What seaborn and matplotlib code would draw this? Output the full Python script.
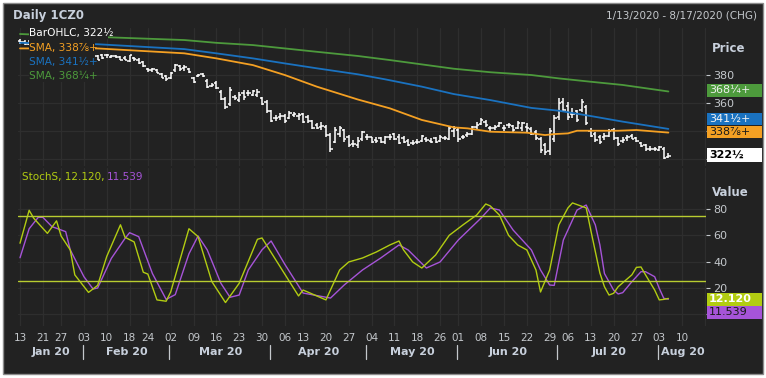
import numpy as np
import pandas as pd
import seaborn as sns
import matplotlib.pyplot as plt
from matplotlib.patches import Rectangle
from matplotlib.lines import Line2D
import matplotlib.transforms as mtrans

# ---- data ----
opens = [404.5, 403.5, 402, 403.5, 400.5, 399.5, 398, 399, 396.5, 395, 396, 393.5, 394.5, 393, 392, 393.5, 394,
         393.5, 394, 394.5, 393, 393.5, 393, 392.5, 390, 392, 391, 389, 384, 383.5, 383.5, 381, 379, 378, 383.5,
         386.5, 385, 384, 378, 379.5, 381, 376, 372.5, 374, 368, 363, 359, 364, 362, 367, 367, 365.5, 366, 363.5,
         361, 354, 349, 350, 351, 349, 351.5, 351, 352, 350, 347, 344.5, 343, 343, 337, 332, 338, 340.5, 336, 331,
         330, 334, 336, 335.5, 333.5, 335, 332, 335.5, 338, 336, 335, 333, 331.5, 332, 333, 334, 333, 335, 333,
         335, 334.5, 340, 341, 335.5, 337.5, 338, 343, 345, 346.5, 342, 342.5, 343.5, 342.5, 344, 343.5, 342, 342,
         343, 341.5, 339, 334, 330, 326, 334, 350, 361, 358, 352, 354, 355, 357.5, 340, 338, 336, 336, 336.5,
         340.5, 335, 333, 335, 336.5, 335, 331.5, 330, 327.5, 327.5, 326.5, 327.5, 321.5]
highs = [406, 405, 405, 404.5, 402, 401, 400, 400.5, 398, 397, 397.5, 395.5, 396, 394.5, 394, 395, 395.5,
         394.3, 394.8, 395, 394.3, 394.3, 393.5, 393.5, 394.3, 393, 392, 390, 384.8, 384.8, 384, 381.8, 380,
         382.4, 388, 387, 387, 384.8, 378.8, 381, 381.8, 377, 374, 376, 369, 364, 371.2, 366, 367.6, 369, 369,
         369.5, 369.8, 364.3, 362.4, 355, 351.4, 352.6, 352, 354.5, 353.8, 353, 353, 351.4, 347.9, 345.5, 346.7,
         344.3, 338.3, 342.6, 343.6, 341.2, 337, 333.6, 336, 340.2, 337.6, 336, 335.5, 336, 336.7, 337.8, 338.8,
         337.6, 336.4, 334, 333.6, 334, 337.1, 335.5, 334.8, 336, 337, 336.4, 343.6, 343.6, 342, 337, 339.5,
         343.6, 346.7, 349.5, 347.9, 343.6, 344.3, 346.7, 344.3, 345.9, 344.3, 347.2, 346.7, 345.5, 342.6, 340.7,
         336, 331.2, 342, 351.4, 363.3, 363.3, 360.9, 356.2, 355, 362.6, 358.6, 341.9, 339.5, 337.1, 338.3,
         341.2, 341.9, 336, 336, 337.1, 337.6, 336, 332.4, 330.7, 329.3, 328.8, 329.3, 328.3, 324.1]
lows = [402.5, 401.5, 401.5, 399.5, 398.5, 397.5, 396.5, 396, 394, 393.5, 393, 392, 392.5, 391, 390.5, 392,
        392.5, 390.7, 391.5, 392, 392, 392, 390.7, 390.5, 389.5, 390, 388, 386, 382, 382.4, 381.2, 377.6, 376,
        377, 382.4, 383, 383, 381.2, 374.5, 378.3, 378.3, 370.7, 371.4, 369.8, 362, 355.5, 358, 362, 360.5,
        362.5, 365, 364.8, 364.3, 358.3, 352.9, 346.7, 347.4, 347.9, 346, 348.4, 349.8, 347.9, 345.5, 345.5,
        341.2, 341.2, 340.7, 336, 325.2, 331.2, 336, 332.4, 328.3, 328.3, 327.6, 333.1, 333.6, 331.2, 331.7,
        331.2, 330.7, 333.6, 333.6, 330.7, 331.2, 329.3, 330, 330.7, 332.4, 332.4, 331.2, 331.2, 332.4, 333.6,
        333.6, 336, 332.5, 334, 336, 337.1, 340.7, 344.3, 342.6, 340.2, 340.7, 342.6, 340.2, 341.9, 339.5, 341.2,
        340.2, 339.5, 337.1, 333.6, 324.1, 322.9, 323, 332.4, 347.9, 353.8, 347.9, 349, 346.7, 353.8, 344.3,
        335.8, 332.4, 330.7, 333.6, 335.5, 333.6, 329.3, 331.2, 333.1, 334, 332.4, 328.3, 326, 326, 326, 326,
        320, 320.7]
closes = [403.5, 402, 404, 400.5, 399.5, 398, 399, 396.5, 395, 396, 393.5, 394.5, 393, 392, 393.5, 394, 393,
          391, 392, 394.5, 393.5, 393, 391, 391, 394, 391.5, 388.5, 386.5, 383.5, 384, 381.5, 378, 377, 381.5,
          387.5, 384, 385.5, 382, 375, 380, 379, 371.5, 373, 370.5, 363, 357, 369.5, 363.5, 366, 364, 367.5,
          368.5, 368, 359, 354, 347.5, 349.5, 350.5, 347, 353, 352, 351.5, 346.5, 347, 342, 342, 343.5, 337,
          327.5, 341, 342.5, 334, 330, 330.5, 333, 339, 335.5, 332, 333, 332, 335.5, 336, 334.5, 331.5, 332, 330,
          331.5, 332.5, 336.5, 333.5, 332.5, 332, 336, 335, 342.5, 342, 334, 335.5, 338, 343, 344, 348, 344, 342,
          343, 346, 342.5, 344.5, 340.5, 346, 345.5, 342, 338, 335, 326.5, 325, 340, 349, 360, 355, 350, 352.5,
          348, 360.5, 346, 336.5, 333.5, 332, 336.5, 340, 335, 330.5, 333.5, 335.5, 334.5, 333, 329, 327, 327.5,
          327, 328.5, 321, 322.5]

sma_g_idx = [0, 19, 36, 43, 51, 58, 65, 74, 81, 88, 95, 103, 112, 118, 125, 132, 142]
sma_g_val = [409.3, 407, 405, 403, 401.4, 399, 396.6, 393.6, 390.7, 387.6, 384.5, 382, 380, 377.6, 375.2, 372.9, 368.25]
sma_b_idx = [0, 17, 36, 43, 51, 58, 65, 74, 80, 88, 95, 103, 112, 118, 125, 132, 142]
sma_b_val = [403, 402, 398.5, 395.5, 391.9, 388.3, 384.8, 380.5, 376.9, 371.7, 366.4, 362.1, 356.5, 354.5, 350.7, 346.7, 341.5]
sma_o_idx = [0, 17, 36, 43, 51, 58, 65, 74, 81, 88, 95, 98, 103, 111, 115, 117, 120, 122, 131, 135, 142]
sma_o_val = [399, 399, 395.5, 391.9, 387.1, 380, 371.7, 362.5, 356.2, 347.9, 342.6, 341.9, 339.5, 338.8, 337.1,
             337.8, 338.3, 340.2, 340.2, 340.7, 338.875]

k_idx = [0, 2, 3, 6, 8, 9, 11, 12, 15, 17, 19, 22, 23, 25, 27, 28, 30, 32, 33, 37, 39, 42, 45, 48, 52, 53, 57,
         61, 62, 65, 67, 70, 72, 75, 78, 81, 83, 84, 86, 88, 91, 94, 97, 100, 102, 103, 105, 107, 109, 111, 113,
         114, 116, 118, 120, 121, 124, 125, 127, 128, 129, 130, 131, 134, 135, 136, 137, 139, 140, 141, 142]
k_val = [54, 79, 73, 61.5, 71, 59.5, 49, 30, 16.7, 22, 44, 68, 58.5, 55, 32, 30.6, 11, 10, 17, 65, 59, 25, 9,
         23.6, 57, 58, 36, 14, 18.5, 14, 11, 33.7, 39.8, 42.8, 47.3, 52.7, 55.7, 48.9, 39.8, 35.2, 45, 60, 67.9,
         75.4, 83.8, 82.3, 75.4, 60, 52.7, 48.9, 33.7, 17, 33.7, 67.9, 80.8, 84.6, 80.8, 64, 31.4, 21, 14.7, 16,
         21, 30, 35.7, 36, 30, 18.5, 11, 11.4, 12.12]
d_idx = [0, 2, 4, 5, 7, 10, 11, 14, 16, 17, 20, 23, 24, 26, 29, 32, 34, 37, 39, 41, 44, 46, 48, 50, 53, 55, 58,
         62, 68, 71, 75, 79, 83, 85, 89, 92, 96, 101, 103, 105, 108, 112, 114, 116, 117, 119, 122, 124, 126, 127,
         128, 130, 131, 132, 134, 136, 137, 139, 140, 141, 142]
d_val = [43, 65, 73.7, 73.7, 66.6, 62.8, 49, 28.6, 19.3, 20, 42.5, 57.7, 62, 59, 31, 11.4, 15, 46, 59.5, 49,
         23.6, 13, 14.7, 33.7, 49, 55.7, 38, 16.2, 12.4, 22.3, 33.7, 42.8, 52.7, 48.9, 35.2, 39.8, 56.5, 73.2,
         80.8, 79.2, 64, 48.9, 33.7, 22.3, 22, 56.5, 79.2, 83, 67.9, 52.7, 31, 18.5, 15.5, 16.5, 24.8, 32.4,
         32.4, 28.6, 19.8, 12.2, 11.539]

week_idx = [0, 5, 9, 14, 19, 24, 28, 33, 38, 43, 48, 53, 58, 62, 67, 72, 77, 82, 87, 92, 96, 101, 106, 111,
            116, 120, 125, 130, 135, 140, 145, 150]
week_lbl = ["13", "21", "27", "03", "10", "18", "24", "02", "09", "16", "23", "30", "06", "13", "20", "27",
            "04", "11", "18", "26", "01", "08", "15", "22", "29", "06", "13", "20", "27", "03", "10", ""]
month_idx = [0, 14, 33, 55, 76, 96, 118, 140]
month_lbl = ["Jan 20", "Feb 20", "Mar 20", "Apr 20", "May 20", "Jun 20", "Jul 20", "Aug 20"]
price_ticks = [320, 340, 360, 380]
price_lbls = ["", "", "360", "380"]
value_ticks = [0, 20, 40, 60, 80]
value_lbls = ["", "20", "40", "60", "80"]

# ---- style ----
BG = "#222222"
GRID = "#2e2e2e"
TXT = "#c4c8cc"
GREEN = "#4d9a3c"
BLUE = "#1a72c0"
ORANGE = "#f4a023"
KCOL = "#b2cc12"
DCOL = "#a654d8"

sns.set_theme(style="dark")
plt.rcParams["font.family"] = ["DejaVu Sans"]

W, H = 766, 378
fig = plt.figure(figsize=(W / 100, H / 100), dpi=100, facecolor="white")


def fx(px):
    return px / W


def fy(py):
    return 1 - py / H


def frect(x0, y0, x1, y1, **kw):
    r = Rectangle((fx(x0), fy(y1)), fx(x1) - fx(x0), fy(y0) - fy(y1), transform=fig.transFigure, **kw)
    fig.add_artist(r)
    return r


frect(3, 3, 763, 374, facecolor=BG, edgecolor="#8c8c8c", lw=1, zorder=-5)

XL = (-0.44, 150.24)
ax_p = fig.add_axes([fx(18), fy(166), fx(706) - fx(18), fy(28) - fy(166)])
ax_s = fig.add_axes([fx(18), fy(326), fx(706) - fx(18), fy(168) - fy(326)])

for ax in (ax_p, ax_s):
    ax.set_facecolor(BG)
    for sp in ax.spines.values():
        sp.set_visible(False)
    ax.set_xlim(*XL)
    ax.grid(True, color=GRID, lw=0.9)
    ax.yaxis.tick_right()
    ax.tick_params(axis="y", length=3, width=0.8, color=TXT, labelcolor=TXT, labelsize=8, pad=2)

# ---- price panel ----
idx = np.arange(len(closes))
ax_p.vlines(idx, lows, highs, color="white", lw=1.1)
ax_p.hlines(opens, idx - 0.5, idx, color="white", lw=1.1)
ax_p.hlines(closes, idx, idx + 0.5, color="white", lw=1.1)

sns.lineplot(x=sma_g_idx, y=sma_g_val, ax=ax_p, color=GREEN, lw=1.3)
sns.lineplot(x=sma_b_idx, y=sma_b_val, ax=ax_p, color=BLUE, lw=1.3)
sns.lineplot(x=sma_o_idx, y=sma_o_val, ax=ax_p, color=ORANGE, lw=1.3)

ax_p.set_ylim(315.0, 413.6)
ax_p.set_yticks(price_ticks)
ax_p.set_yticklabels(price_lbls)
ax_p.set_xticks(week_idx)
ax_p.tick_params(axis="x", length=0, labelbottom=False)
ax_p.set_xlabel("")
ax_p.set_ylabel("")

# ---- stochastic panel ----
sns.lineplot(x=d_idx, y=d_val, ax=ax_s, color=DCOL, lw=1.0)
sns.lineplot(x=k_idx, y=k_val, ax=ax_s, color=KCOL, lw=1.0)
ax_s.axhline(75, color="#b8cc30", lw=1.0)
ax_s.axhline(25, color="#b8cc30", lw=1.0)
ax_s.set_ylim(-8.8, 111.1)
ax_s.set_yticks(value_ticks)
ax_s.set_yticklabels(value_lbls)
ax_s.set_xticks(week_idx)
ax_s.set_xticklabels(week_lbl)
ax_s.set_xticks(month_idx, minor=True)
ax_s.tick_params(axis="x", which="both", length=3, width=0.8, color=TXT, labelcolor=TXT, labelsize=7.5, pad=2)
ax_s.set_xlabel("")
ax_s.set_ylabel("")

# month labels and separators
bt = mtrans.blended_transform_factory(ax_s.transData, fig.transFigure)
edges = month_idx[1:] + [XL[1]]
starts = [XL[0]] + month_idx[1:]
for s, e, lbl in zip(starts, edges, month_lbl):
    fig.text((s + e) / 2, fy(352), lbl, transform=bt, ha="center", va="center",
             color="#c8d0dc", fontsize=8, fontweight="bold")
for m in month_idx[1:]:
    fig.add_artist(Line2D([m - 0.3, m - 0.3], [fy(345), fy(359)], transform=bt, color=TXT, lw=0.9))

# ---- legend block covering the start of the price panel ----
frect(29, 28, 108, 39, facecolor=BG, edgecolor="none", zorder=1)
frect(29, 39, 95, 82, facecolor=BG, edgecolor="none", zorder=1)
leg = [("BarOHLC, 322½", "white", 33), ("SMA, 338⅞+", ORANGE, 47.5),
       ("SMA, 341½+", BLUE, 61.5), ("SMA, 368¼+", GREEN, 76)]
for t, c, y in leg:
    fig.text(fx(29), fy(y), t, color=c, fontsize=7.6, va="center", ha="left", zorder=3)

fig.text(fx(22), fy(177), "StochS, 12.120,", color=KCOL, fontsize=7.5, va="center", ha="left")
fig.text(fx(107), fy(177), "11.539", color=DCOL, fontsize=7.5, va="center", ha="left")

# ---- header texts ----
fig.text(fx(13), fy(15), "Daily 1CZ0", color="#c8d0dc", fontsize=8.5, fontweight="bold", va="center")
fig.text(fx(757), fy(15), "1/13/2020 - 8/17/2020 (CHG)", color=TXT, fontsize=7.5, va="center", ha="right")
fig.text(fx(712), fy(48), "Price", color="#c8d0dc", fontsize=8.5, fontweight="bold", va="center")
fig.text(fx(712), fy(193), "Value", color="#c8d0dc", fontsize=8.5, fontweight="bold", va="center")

# ---- last-value boxes on the right ----
boxes = [(84, 96.7, GREEN, "368¼+", "#eeeeee", "normal"),
         (113.3, 125.3, BLUE, "341½+", "#f4f4f4", "normal"),
         (126, 138.3, ORANGE, "338⅞+", "#1a1a1a", "normal"),
         (148.3, 161.7, "white", "322½", "#000000", "bold"),
         (292.7, 305.7, KCOL, "12.120", "#ffffff", "bold"),
         (305.7, 318.7, DCOL, "11.539", "#1a1a1a", "normal")]
for y0, y1, fc, t, tc, fw in boxes:
    frect(707, y0, 762, y1, facecolor=fc, edgecolor="none", zorder=2)
    fig.text(fx(709), fy((y0 + y1) / 2), t, color=tc, fontsize=8, fontweight=fw, va="center", ha="left", zorder=3)

fig.savefig("out.png", dpi=100, facecolor="white")
